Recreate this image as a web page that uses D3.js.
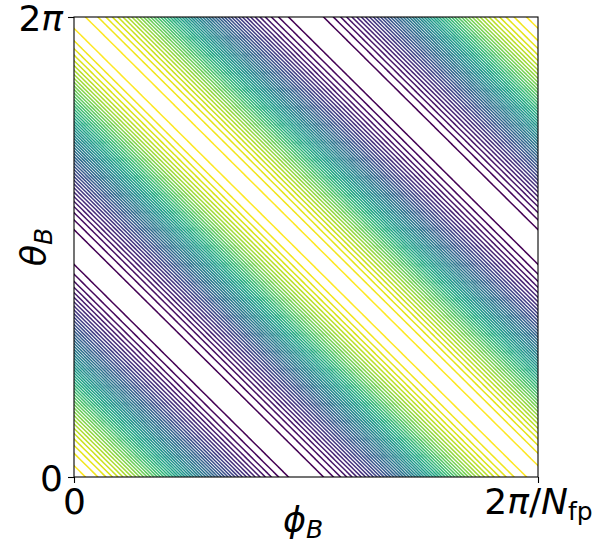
<!DOCTYPE html>
<html>
<head>
<meta charset="utf-8">
<script src="https://cdn.jsdelivr.net/npm/d3@7"></script>
<style>
  body { margin: 0; background: #fff; }
  svg text { font-family: "DejaVu Sans", sans-serif; fill: #000; }
</style>
</head>
<body>
<div id="chart"></div>
<script>
  // |B| on the Boozer angles, one field period; values normalised to [-1, 1]
  var modes = [{ m: 1, n: 1, amp: 1.0, phase: 0.0 }];

  // contour levels (50 of them, as in the picture)
  var levels = [-0.972, -0.932, -0.892, -0.852, -0.812, -0.772, -0.732, -0.692, -0.652, -0.612,
    -0.572, -0.532, -0.492, -0.452, -0.412, -0.372, -0.332, -0.292, -0.252, -0.212,
    -0.172, -0.132, -0.092, -0.052, -0.012, 0.028, 0.068, 0.108, 0.148, 0.188,
    0.228, 0.268, 0.308, 0.348, 0.388, 0.428, 0.468, 0.508, 0.548, 0.588,
    0.628, 0.668, 0.708, 0.748, 0.788, 0.828, 0.868, 0.908, 0.948, 0.988];

  var xTicks = [0, 1];
  var yTicks = [0, 1];

  var width = 598,
    height = 544,
    margin = { left: 74, right: 60, top: 17, bottom: 67 },
    plotW = width - margin.left - margin.right,
    plotH = height - margin.top - margin.bottom;

  var x = d3.scaleLinear().domain([0, 1]).range([margin.left, margin.left + plotW]);
  var y = d3.scaleLinear().domain([0, 1]).range([margin.top + plotH, margin.top]);

  var color = d3.scaleSequential(d3.interpolateViridis)
    .domain([levels[0], levels[levels.length - 1]]);

  // sample the field on a grid a little larger than the plot, then clip
  var pad = 0.05, nx = 400, ny = 400,
    u0 = -pad, du = (1 + 2 * pad) / (nx - 1),
    v0 = -pad, dv = (1 + 2 * pad) / (ny - 1);

  function field(u, v) {
    var s = 0;
    modes.forEach(function(md) {
      s += md.amp * Math.cos(2 * Math.PI * (md.m * v + md.n * u) - md.phase);
    });
    return s;
  }

  var values = new Float64Array(nx * ny);
  for (var j = 0; j < ny; j++) {
    for (var i = 0; i < nx; i++) {
      values[j * nx + i] = field(u0 + i * du, v0 + j * dv);
    }
  }

  var contours = d3.contours().size([nx, ny]).thresholds(levels)(values);

  var path = d3.geoPath(d3.geoTransform({
    point: function(gx, gy) {
      this.stream.point(x(u0 + (gx - 0.5) * du), y(v0 + (gy - 0.5) * dv));
    }
  }));

  var svg = d3.select('#chart').append('svg')
    .attr('width', width)
    .attr('height', height);

  svg.append('clipPath').attr('id', 'plot-clip')
    .append('rect')
    .attr('x', margin.left).attr('y', margin.top)
    .attr('width', plotW).attr('height', plotH);

  svg.append('g')
    .attr('clip-path', 'url(#plot-clip)')
    .selectAll('path')
    .data(contours)
    .enter().append('path')
    .attr('d', path)
    .attr('fill', 'none')
    .attr('stroke', function(d) { return color(d.value); })
    .attr('stroke-width', 1.5);

  // frame
  svg.append('rect')
    .attr('x', margin.left).attr('y', margin.top)
    .attr('width', plotW).attr('height', plotH)
    .attr('fill', 'none')
    .attr('stroke', '#000')
    .attr('stroke-width', 1.1);

  var xAxis = svg.append('g')
    .attr('transform', 'translate(0,' + (margin.top + plotH) + ')')
    .call(d3.axisBottom(x).tickValues(xTicks).tickSize(6).tickFormat(''));
  var yAxis = svg.append('g')
    .attr('transform', 'translate(' + margin.left + ',0)')
    .call(d3.axisLeft(y).tickValues(yTicks).tickSize(6).tickFormat(''));

  [xAxis, yAxis].forEach(function(ax) {
    ax.select('.domain').remove();
    ax.selectAll('.tick line').attr('stroke', '#000').attr('stroke-width', 1.1);
    ax.selectAll('.tick text').remove();
  });

  // x tick labels
  xAxis.selectAll('.tick').each(function(d) {
    var t = d3.select(this).append('text')
      .attr('y', 37)
      .attr('text-anchor', 'middle')
      .style('font-size', '36px');
    if (d === 0) {
      t.text('0');
    } else {
      t.append('tspan').text('2');
      t.append('tspan').style('font-style', 'italic').text('π');
      t.append('tspan').text('/');
      t.append('tspan').style('font-style', 'italic').text('N');
      t.append('tspan').attr('dy', 6).style('font-size', '25px').text('fp');
    }
  });

  // y tick labels
  yAxis.selectAll('.tick').each(function(d) {
    var t = d3.select(this).append('text')
      .attr('x', -11)
      .attr('dy', '0.37em')
      .attr('text-anchor', 'end')
      .style('font-size', '36px');
    if (d === 0) {
      t.text('0');
    } else {
      t.append('tspan').text('2');
      t.append('tspan').style('font-style', 'italic').text('π');
    }
  });

  // axis labels
  var xl = svg.append('text')
    .attr('x', margin.left + plotW / 2 - 3)
    .attr('y', 532)
    .attr('text-anchor', 'middle')
    .style('font-size', '35px')
    .style('font-style', 'italic');
  xl.append('tspan').text('ϕ');
  xl.append('tspan').attr('dy', 6).style('font-size', '25px').text('B');

  var yl = svg.append('text')
    .attr('transform', 'translate(46,' + (margin.top + plotH / 2) + ') rotate(-90)')
    .attr('text-anchor', 'middle')
    .style('font-size', '35px')
    .style('font-style', 'italic');
  yl.append('tspan').text('θ');
  yl.append('tspan').attr('dy', 6).style('font-size', '25px').text('B');
</script>
</body>
</html>
